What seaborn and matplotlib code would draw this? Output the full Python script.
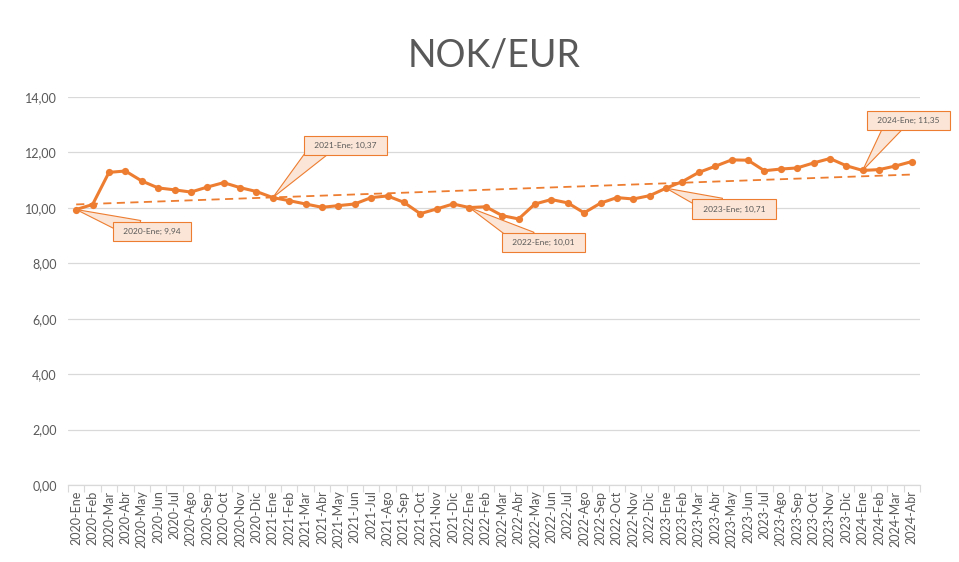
import numpy as np
import pandas as pd
import matplotlib
matplotlib.use("Agg")
import matplotlib.pyplot as plt
import seaborn as sns

# Monthly NOK per EUR, Jan 2020 - Apr 2024
years = ["2020", "2021", "2022", "2023", "2024"]
months = ["Ene", "Feb", "Mar", "Abr", "May", "Jun",
          "Jul", "Ago", "Sep", "Oct", "Nov", "Dic"]
periods = [f"{y}-{m}" for y in years for m in months][:52]

rates = [
    9.94, 10.12, 11.28, 11.33, 10.97, 10.72, 10.65, 10.57, 10.75, 10.91, 10.73, 10.59,
    10.37, 10.26, 10.14, 10.02, 10.08, 10.14, 10.37, 10.43, 10.20, 9.79, 9.96, 10.14,
    10.01, 10.04, 9.72, 9.60, 10.14, 10.30, 10.18, 9.82, 10.17, 10.37, 10.32, 10.44,
    10.71, 10.95, 11.28, 11.50, 11.73, 11.72, 11.34, 11.40, 11.44, 11.62, 11.78, 11.52,
    11.35, 11.38, 11.51, 11.67,
]

# January points that carry a callout, with the callout offset (pixels) and anchor
callout_idx = [0, 12, 24, 36, 48]
callout_off = [(76, -22), (73, 52), (74, -35), (68, -21), (46, 50)]
callout_rel = [(0.28, 0.75), (0.15, 0.25), (0.3, 0.75), (0.29, 0.75), (0.32, 0.25)]

ORANGE = "#ED7D31"
FILL = "#FBE5D6"
GREY = "#595959"
GRID = "#D9D9D9"

sns.set_theme(style="white")
plt.rcParams["font.family"] = ["Lato", "DejaVu Sans"]

df = pd.DataFrame({"i": np.arange(len(rates)), "periodo": periods, "tasa": rates})

fig = plt.figure(figsize=(9.59, 5.62), dpi=100)
ax = fig.add_axes([68 / 959, 1 - 485 / 562, (920 - 68) / 959, (485 - 97) / 562])

sns.lineplot(data=df, x="i", y="tasa", ax=ax, color=ORANGE, lw=2.2,
             marker="o", markersize=5.2, markeredgewidth=0, zorder=3)

# linear trend
coef = np.polyfit(df["i"], df["tasa"], 1)
trend = np.polyval(coef, df["i"])
sns.lineplot(x=df["i"], y=trend, ax=ax, color=ORANGE, lw=1.3,
             linestyle=(0, (4.5, 3)), zorder=2)

ax.set_ylim(0, 14)
ax.set_xlim(-0.5, len(rates) - 0.5)
ax.set_yticks(np.arange(0, 15, 2))
ax.set_yticklabels([f"{v:.2f}".replace(".", ",") for v in np.arange(0, 15, 2)],
                   color=GREY, fontsize=9)
ax.set_xticks(df["i"])
ax.set_xticklabels(periods, rotation=90, color=GREY, fontsize=9)
ax.set_xticks(np.arange(-0.5, len(rates), 1), minor=True)
ax.tick_params(axis="x", which="major", length=0, pad=4)
ax.tick_params(axis="x", which="minor", length=5, color=GRID, width=0.8,
               direction="out", bottom=True)
ax.tick_params(axis="y", length=0, pad=8)

ax.grid(axis="y", color=GRID, lw=0.9)
ax.set_axisbelow(True)
for s in ["top", "right", "left"]:
    ax.spines[s].set_visible(False)
ax.spines["bottom"].set_color(GRID)
ax.spines["bottom"].set_linewidth(0.9)
ax.set_xlabel("")
ax.set_ylabel("")

fig.text((68 + 920) / 2 / 959, 1 - 55 / 562, "NOK/EUR", ha="center", va="center",
         fontsize=27, color=GREY)

for k, off, rel in zip(callout_idx, callout_off, callout_rel):
    label = f"{periods[k]}; {rates[k]:.2f}".replace(".", ",")
    ax.annotate(
        "  " + label + "  ", xy=(k, rates[k]), xytext=off, textcoords="offset pixels",
        ha="center", va="center", fontsize=6, color=GREY, zorder=5,
        bbox=dict(boxstyle="square,pad=0.75", fc=FILL, ec=ORANGE, lw=0.8),
        arrowprops=dict(arrowstyle="wedge,tail_width=1.4", mutation_scale=10,
                        fc=FILL, ec=ORANGE, lw=0.8, relpos=rel,
                        patchA=None, shrinkA=0, shrinkB=0),
    )

fig.savefig("out.png", dpi=100)
